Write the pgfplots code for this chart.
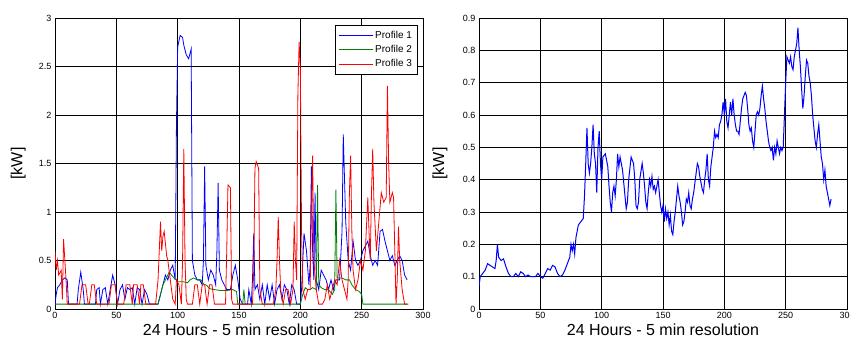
\documentclass[border=0pt]{standalone}
\usepackage{fontspec}
\setmainfont{Liberation Sans}
\usepackage{pgfplots}
\pgfplotsset{compat=1.18}
\definecolor{pblue}{rgb}{0,0,1}
\definecolor{pgreen}{rgb}{0,0.5,0}
\definecolor{pred}{rgb}{1,0,0}
\pgfplotsset{
  common/.style={
    scale only axis, width=368pt, height=291pt, anchor=south west,
    xmin=0, xmax=300, xtick={0,50,...,300},
    grid=major, major grid style={black, line width=0.9pt},
    axis line style={black, line width=0.9pt},
    tick style={black, line width=0.6pt}, major tick length=3pt, tick align=inside,
    tick label style={font=\fontsize{9}{10}\selectfont},
    /pgf/number format/assume math mode=true,
    xlabel={24 Hours - 5 min resolution}, ylabel={[kW]},
    label style={font=\fontsize{16}{18}\selectfont},
    xlabel style={at={(axis description cs:0.5,-0.072)}, anchor=center},
    ylabel style={anchor=center},
    scaled ticks=false,
  },
}
\begin{document}
\begin{tikzpicture}
\path[use as bounding box] (0pt,0pt) rectangle (850pt,344pt);
\begin{axis}[common, at={(55pt,35pt)}, ymin=0, ymax=3, ytick={0,0.5,...,3},
  yticklabels={0,0.5,1,1.5,2,2.5,3},
  ylabel style={at={(axis description cs:-0.1,0.5)}},
  legend style={at={(0.984,0.976)}, anchor=north east,
    font=\fontsize{10}{11}\selectfont, row sep=1.5pt, inner ysep=4pt, fill=white},
  legend cell align=left,
]
\addlegendimage{draw=pblue, line width=1pt, legend image code/.code={\draw[draw=pblue, line width=1pt] (0pt,0pt) -- (34pt,0pt);}}
\addlegendentry{Profile 1}
\addlegendimage{draw=pgreen, line width=1pt, legend image code/.code={\draw[draw=pgreen, line width=1pt] (0pt,0pt) -- (34pt,0pt);}}
\addlegendentry{Profile 2}
\addlegendimage{draw=pred, line width=1pt, legend image code/.code={\draw[draw=pred, line width=1pt] (0pt,0pt) -- (34pt,0pt);}}
\addlegendentry{Profile 3}
\addplot[draw=pblue, line width=0.8pt, forget plot] coordinates {
(0,0.05)(1,0.15)(2,0.22)(4,0.25)(6,0.3)(8,0.32)(10,0.3)(11,0.05)(18,0.05)(19,0.2)(21,0.38)(23,0.2)(24,0.05)(33,0.05)(34,0.2)(36,0.22)(37,0.05)(39,0.2)(41,0.22)(43,0.05)(45,0.2)(47,0.35)(49,0.25)(51,0.05)(53,0.2)(55,0.25)(57,0.1)(59,0.22)(61,0.2)(63,0.22)(65,0.05)(67,0.22)(69,0.2)(71,0.05)(73,0.2)(75,0.15)(77,0.05)(84,0.05)(86,0.15)(88,0.25)(90,0.35)(92,0.3)(94,0.4)(96,0.45)(98,0.3)(99,1.9)(100,2.7)(102,2.82)(104,2.8)(105,2.72)(107,2.62)(109,2.58)(111,2.68)(112,0.5)(114,0.35)(116,0.3)(118,0.3)(120,0.25)(121,0.5)(122,1.47)(123,0.45)(125,0.3)(127,0.4)(129,0.35)(131,0.25)(132,0.6)(133,1.3)(134,0.4)(136,0.3)(138,0.25)(140,0.2)(143,0.2)(145,0.35)(147,0.45)(149,0.3)(151,0.1)(153,0.05)(157,0.05)(158,0.2)(160,0.05)(161,0.3)(162,0.78)(163,0.2)(165,0.25)(167,0.1)(169,0.25)(171,0.05)(173,0.25)(175,0.1)(177,0.25)(179,0.05)(181,0.2)(183,0.25)(185,0.1)(187,0.25)(189,0.2)(191,0.05)(193,0.25)(195,0.2)(197,0.05)(200,0.05)(201,0.2)(203,0.78)(205,0.6)(207,0.25)(208,0.45)(209,1.47)(210,0.6)(211,0.3)(212,1.2)(213,0.3)(215,0.2)(217,0.4)(219,0.35)(221,0.3)(223,0.2)(225,0.3)(227,0.2)(229,0.3)(232,0.3)(234,0.8)(235,1.8)(237,0.9)(239,0.5)(241,0.4)(243,0.7)(245,0.5)(247,0.45)(249,0.5)(251,0.6)(253,0.65)(255,0.7)(257,0.55)(259,0.45)(261,0.5)(263,0.45)(265,0.8)(267,0.82)(269,0.7)(271,0.6)(273,0.5)(275,0.55)(277,0.45)(279,0.5)(281,0.55)(283,0.5)(285,0.35)(287,0.3)
};
\addplot[draw=pgreen, line width=0.8pt, forget plot] coordinates {
(0,0.05)(84,0.05)(86,0.15)(88,0.25)(90,0.3)(92,0.35)(93,0.38)(95,0.35)(97,0.32)(99,0.3)(100,0.28)(105,0.28)(108,0.27)(110,0.3)(113,0.32)(116,0.3)(119,0.3)(121,0.26)(124,0.24)(126,0.21)(130,0.2)(135,0.19)(140,0.19)(145,0.2)(148,0.18)(149,0.05)(153,0.05)(154,0.2)(155,0.05)(200,0.05)(202,0.15)(204,0.22)(206,0.2)(208,0.2)(210,0.22)(213,0.2)(214,1.28)(215,0.25)(217,0.22)(220,0.2)(223,0.2)(226,0.15)(228,0.2)(229,1.23)(230,0.32)(234,0.32)(237,0.3)(240,0.3)(242,0.25)(245,0.2)(248,0.18)(250,0.15)(251,0.05)(288,0.05)
};
\addplot[draw=pred, line width=0.8pt, forget plot] coordinates {
(0,0.6)(1,0.4)(2,0.5)(3,0.35)(5,0.4)(6,0.1)(7,0.72)(9,0.3)(10,0.05)(20,0.05)(22,0.25)(25,0.25)(27,0.05)(28,0.05)(30,0.25)(32,0.25)(34,0.05)(44,0.05)(46,0.25)(49,0.25)(51,0.05)(56,0.05)(58,0.25)(61,0.25)(63,0.05)(64,0.25)(67,0.25)(69,0.05)(70,0.25)(72,0.25)(74,0.05)(82,0.05)(84,0.3)(86,0.9)(87,0.6)(88,0.75)(89,0.8)(91,0.55)(92,0.5)(94,0.3)(96,0.1)(98,0.05)(99,0.3)(101,0.25)(103,0.05)(104,0.5)(105,1.65)(106,0.5)(107,0.1)(108,0.05)(112,0.05)(114,0.25)(116,0.25)(118,0.05)(120,0.25)(122,0.25)(124,0.05)(126,0.25)(128,0.25)(130,0.05)(139,0.05)(140,0.6)(141,1.28)(143,1.25)(144,0.1)(145,0.05)(161,0.05)(162,0.4)(163,1.45)(164,1.52)(166,1.45)(167,0.2)(169,0.05)(178,0.05)(180,0.2)(181,0.5)(182,0.95)(183,0.5)(184,0.2)(186,0.05)(188,0.2)(190,0.2)(192,0.05)(194,0.2)(195,0.9)(196,0.5)(197,0.3)(198,2.2)(199,2.75)(200,2.5)(201,0.8)(202,0.2)(204,0.1)(206,0.2)(208,0.2)(209,1.0)(210,1.58)(211,0.5)(213,0.2)(215,0.05)(218,0.05)(220,0.1)(222,0.25)(224,0.1)(226,0.2)(228,0.3)(230,0.25)(232,0.5)(234,0.3)(236,0.2)(238,0.1)(239,0.3)(240,1.2)(241,1.58)(242,0.8)(243,0.4)(245,0.2)(247,0.3)(249,0.5)(251,0.4)(253,0.6)(255,1.15)(256,0.8)(257,0.5)(258,1.2)(259,1.65)(260,1.1)(262,0.6)(264,0.9)(266,1.2)(268,1.1)(270,1.15)(271,2.3)(272,1.5)(273,1.1)(275,1.2)(276,1.15)(277,0.6)(278,0.05)(279,0.3)(280,0.85)(281,0.5)(283,0.2)(285,0.05)(287,0.05)
};
\end{axis}
\begin{axis}[common, at={(479pt,35pt)}, ymin=0, ymax=0.9, ytick={0,0.1,...,0.9},
  yticklabels={0,0.1,0.2,0.3,0.4,0.5,0.6,0.7,0.8,0.9},
  ylabel style={at={(axis description cs:-0.106,0.5)}},
]
\addplot[draw=pblue, line width=1pt] coordinates {
(0,0.07)(1,0.1)(3,0.11)(5,0.12)(7,0.14)(9,0.135)(11,0.13)(13,0.125)(14,0.15)(15,0.2)(16,0.16)(18,0.15)(20,0.155)(22,0.13)(24,0.11)(26,0.1)(28,0.1)(30,0.11)(32,0.1)(34,0.115)(36,0.11)(38,0.1)(40,0.105)(42,0.1)(44,0.1)(46,0.1)(48,0.11)(50,0.1)(52,0.095)(54,0.11)(56,0.125)(58,0.12)(60,0.135)(62,0.13)(64,0.11)(66,0.1)(68,0.105)(70,0.12)(72,0.14)(74,0.16)(75,0.2)(76,0.18)(77,0.2)(78,0.17)(79,0.22)(81,0.26)(83,0.27)(85,0.28)(86,0.35)(87,0.45)(88,0.56)(89,0.45)(90,0.42)(91,0.45)(92,0.5)(93,0.57)(94,0.48)(95,0.45)(96,0.36)(97,0.5)(98,0.55)(99,0.45)(100,0.4)(101,0.47)(103,0.48)(105,0.44)(106,0.38)(107,0.33)(108,0.3)(109,0.36)(110,0.38)(111,0.35)(112,0.4)(113,0.48)(114,0.44)(115,0.47)(117,0.43)(119,0.35)(120,0.31)(121,0.33)(122,0.4)(124,0.47)(126,0.45)(127,0.4)(128,0.32)(129,0.31)(130,0.33)(131,0.4)(133,0.45)(134,0.42)(135,0.38)(136,0.33)(137,0.31)(138,0.36)(139,0.4)(140,0.38)(141,0.41)(142,0.37)(143,0.38)(144,0.36)(145,0.38)(146,0.4)(147,0.36)(148,0.32)(149,0.3)(150,0.32)(151,0.27)(152,0.31)(153,0.28)(154,0.3)(155,0.26)(156,0.29)(157,0.24)(158,0.23)(159,0.27)(160,0.3)(161,0.34)(162,0.38)(163,0.35)(164,0.33)(165,0.3)(166,0.26)(167,0.27)(168,0.3)(169,0.34)(170,0.33)(171,0.36)(172,0.32)(173,0.31)(174,0.34)(175,0.36)(176,0.39)(177,0.42)(178,0.45)(179,0.44)(180,0.41)(181,0.39)(182,0.37)(183,0.36)(184,0.4)(185,0.43)(186,0.48)(187,0.4)(188,0.38)(189,0.44)(190,0.47)(191,0.5)(192,0.55)(193,0.53)(194,0.54)(195,0.53)(196,0.57)(197,0.58)(198,0.6)(199,0.64)(200,0.6)(201,0.65)(202,0.58)(203,0.56)(204,0.6)(205,0.64)(206,0.6)(207,0.65)(208,0.6)(209,0.57)(210,0.55)(211,0.55)(212,0.54)(213,0.58)(214,0.62)(215,0.65)(216,0.66)(217,0.67)(218,0.66)(219,0.62)(220,0.57)(221,0.55)(222,0.56)(223,0.52)(224,0.5)(225,0.55)(226,0.6)(227,0.61)(228,0.6)(229,0.62)(230,0.66)(231,0.69)(232,0.65)(233,0.62)(234,0.58)(235,0.55)(236,0.52)(237,0.5)(238,0.49)(239,0.5)(240,0.46)(241,0.5)(242,0.48)(243,0.52)(244,0.5)(245,0.48)(246,0.5)(247,0.49)(248,0.5)(249,0.6)(250,0.7)(251,0.78)(252,0.77)(253,0.76)(254,0.78)(255,0.75)(256,0.74)(257,0.78)(258,0.8)(259,0.82)(260,0.87)(261,0.8)(262,0.75)(263,0.68)(264,0.62)(265,0.66)(266,0.72)(267,0.77)(268,0.76)(269,0.72)(270,0.7)(271,0.66)(272,0.6)(273,0.56)(274,0.52)(275,0.5)(276,0.54)(277,0.57)(278,0.52)(279,0.47)(280,0.45)(281,0.4)(282,0.43)(283,0.38)(284,0.36)(285,0.34)(286,0.32)(287,0.34)
};
\end{axis}
\end{tikzpicture}
\end{document}
